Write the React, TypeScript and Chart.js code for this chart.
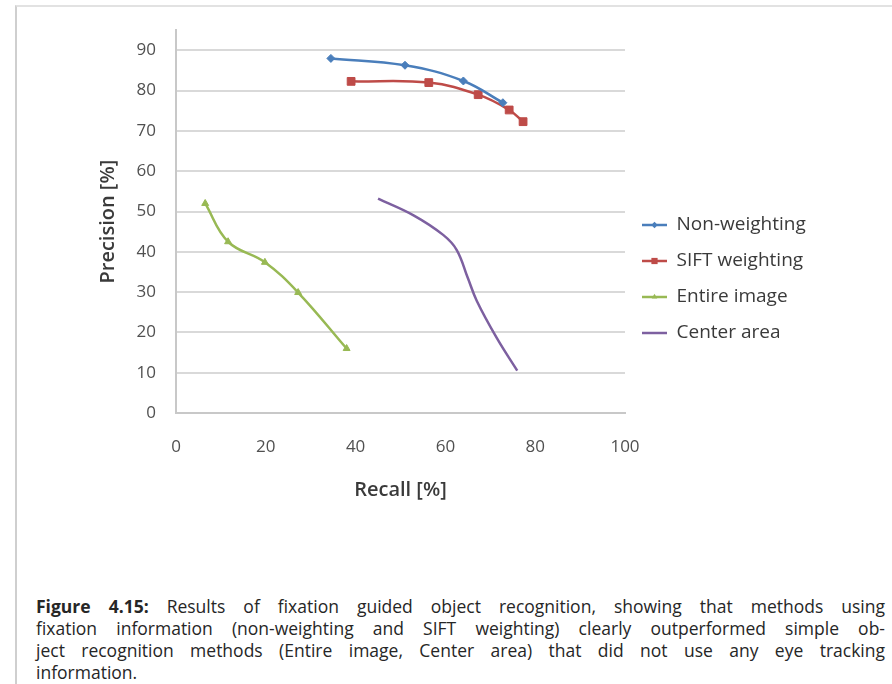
import React, { useEffect, useRef } from "react";
import { Chart, registerables } from "chart.js";

Chart.register(...registerables);

// ---- data ----
const seriesNames = ["Non-weighting", "SIFT weighting", "Entire image", "Center area"];
const seriesColors = ["#4a7ebb", "#be4b48", "#98b954", "#7d60a0"];

const nonWeightingRecall = [34.5, 51, 64, 72.8];
const nonWeightingPrecision = [88, 86.3, 82.4, 77];

const siftRecall = [39, 56.3, 67.3, 74.2, 77.3];
const siftPrecision = [82.3, 82, 79, 75.2, 72.3];

const entireRecall = [6.5, 11.6, 19.8, 27.2, 38];
const entirePrecision = [52, 42.5, 37.4, 29.9, 16];

const centerRecall = [45, 53, 59.5, 62.5, 65, 67, 71.4, 76];
const centerPrecision = [53.2, 49, 44.2, 40.5, 33.5, 27.8, 18.7, 10.5];

const xTickValues = [0, 20, 40, 60, 80, 100];
const yTickValues = [0, 10, 20, 30, 40, 50, 60, 70, 80, 90];

const xTitle = "Recall [%]";
const yTitle = "Precision [%]";

const captionLines = [
  "Results of fixation guided object recognition, showing that methods using",
  "fixation information (non-weighting and SIFT weighting) clearly outperformed simple ob-",
  "ject recognition methods (Entire image, Center area) that did not use any eye tracking",
  "information.",
];
const captionLabel = "Figure 4.15:";

const markerStyles = ["rectRot", "rect", "triangle", false];
const markerRadius = [4, 5.5, 4, 0];

function toPoints(xs: number[], ys: number[]) {
  return xs.map((x, i) => ({ x, y: ys[i] }));
}

const LEGEND_WIDTH = 267;
const LEGEND_FONT = 19;

const fixedLegendWidth = {
  id: "fixedLegendWidth",
  beforeLayout(chart: any) {
    const lg = chart.legend;
    if (lg && !lg.__patched) {
      const orig = lg.fit.bind(lg);
      lg.fit = function () {
        orig();
        this.width = LEGEND_WIDTH;
      };
      lg.__patched = true;
    }
  },
};

const legendMarkers = {
  id: "legendMarkers",
  afterDraw(chart: any) {
    const lg = chart.legend;
    if (!lg || !lg.legendHitBoxes) return;
    const ctx = chart.ctx;
    lg.legendHitBoxes.forEach((hb: any, i: number) => {
      const style = markerStyles[i];
      if (!style) return;
      const cx = hb.left + 12.5;
      const cy = hb.top + LEGEND_FONT / 2;
      const r = markerRadius[i] * 0.8;
      ctx.save();
      ctx.fillStyle = seriesColors[i];
      ctx.beginPath();
      if (style === "rectRot") {
        ctx.moveTo(cx, cy - r);
        ctx.lineTo(cx + r, cy);
        ctx.lineTo(cx, cy + r);
        ctx.lineTo(cx - r, cy);
      } else if (style === "rect") {
        const s = r * Math.SQRT1_2;
        ctx.rect(cx - s, cy - s, 2 * s, 2 * s);
      } else if (style === "triangle") {
        ctx.moveTo(cx, cy - r);
        ctx.lineTo(cx + r * 0.87, cy + r * 0.5);
        ctx.lineTo(cx - r * 0.87, cy + r * 0.5);
      }
      ctx.closePath();
      ctx.fill();
      ctx.restore();
    });
  },
};

function ChartView() {
  const ref = useRef<HTMLCanvasElement | null>(null);
  useEffect(() => {
    if (!ref.current) return;
    const datasets = [
      toPoints(nonWeightingRecall, nonWeightingPrecision),
      toPoints(siftRecall, siftPrecision),
      toPoints(entireRecall, entirePrecision),
      toPoints(centerRecall, centerPrecision),
    ].map((data, i) => ({
      label: seriesNames[i],
      data,
      showLine: true,
      borderColor: seriesColors[i],
      backgroundColor: seriesColors[i],
      borderWidth: 2.5,
      tension: 0.4,
      pointStyle: markerStyles[i] || "circle",
      pointRadius: markerRadius[i],
      pointBorderWidth: 1,
      pointHoverRadius: markerRadius[i],
    }));

    const chart = new Chart(ref.current, {
      type: "scatter",
      data: { datasets },
      plugins: [fixedLegendWidth, legendMarkers],
      options: {
        responsive: false,
        animation: false,
        devicePixelRatio: 1,
        layout: { padding: { left: 90, top: 28, right: 0, bottom: 0 } },
        plugins: {
          tooltip: { enabled: false },
          legend: {
            position: "right",
            align: "center",
            labels: {
              usePointStyle: true,
              pointStyleWidth: 25,
              padding: 17,
              color: "#3a3a3a",
              font: { family: "'Open Sans', sans-serif", size: LEGEND_FONT },
              generateLabels: (c: any) =>
                c.data.datasets.map((ds: any, i: number) => ({
                  text: ds.label,
                  pointStyle: "line",
                  strokeStyle: seriesColors[i],
                  fillStyle: seriesColors[i],
                  lineWidth: 2.5,
                  fontColor: "#3a3a3a",
                  datasetIndex: i,
                  hidden: false,
                })),
            },
          },
        },
        scales: {
          x: {
            type: "linear",
            min: 0,
            max: 100,
            afterFit: (s: any) => {
              s.height = 117;
            },
            afterBuildTicks: (s: any) => {
              s.ticks = xTickValues.map((v) => ({ value: v }));
            },
            grid: { display: false, drawTicks: false },
            border: { display: true, color: "#c8c8c8", width: 2 },
            ticks: {
              padding: 24,
              color: "#505050",
              font: { family: "'Open Sans', sans-serif", size: 17 },
            },
            title: {
              display: true,
              text: xTitle,
              color: "#3a3a3a",
              padding: { top: 0, bottom: 28 },
              font: { family: "'Open Sans', sans-serif", size: 20, weight: "600" },
            },
          },
          y: {
            type: "linear",
            min: 0,
            max: 95,
            afterFit: (s: any) => {
              s.width = 86;
            },
            afterBuildTicks: (s: any) => {
              s.ticks = yTickValues.map((v) => ({ value: v }));
            },
            grid: { color: "#d9d9d9", lineWidth: 2, drawTicks: false },
            border: { display: true, color: "#c8c8c8", width: 2 },
            ticks: {
              padding: 20,
              color: "#505050",
              font: { family: "'Open Sans', sans-serif", size: 17 },
            },
            title: {
              display: true,
              text: yTitle,
              color: "#3a3a3a",
              padding: { top: 6, bottom: 0 },
              font: { family: "'Open Sans', sans-serif", size: 20, weight: "600" },
            },
          },
        },
      },
    });
    return () => chart.destroy();
  }, []);
  return (
    <canvas
      ref={ref}
      width={892}
      height={530}
      style={{ position: "absolute", left: 0, top: 0, width: 892, height: 530 }}
    />
  );
}

export default function App() {
  const lineStyle: React.CSSProperties = {
    whiteSpace: "nowrap",
    textAlign: "justify",
    textAlignLast: "justify",
    height: 22,
    lineHeight: "22px",
  };
  return (
    <div
      style={{
        position: "absolute",
        left: 0,
        top: 0,
        width: 892,
        height: 684,
        overflow: "hidden",
        background: "#ffffff",
      }}
    >
      <div
        style={{
          position: "absolute",
          left: 15,
          top: 5,
          width: 900,
          height: 700,
          borderTop: "2px solid #e2e2e2",
          borderLeft: "2px solid #cfcfcf",
        }}
      />
      <ChartView />
      <div
        style={{
          position: "absolute",
          left: 36,
          top: 595,
          width: 849,
          fontFamily: "'Open Sans', sans-serif",
          fontSize: 17.5,
          color: "#262626",
        }}
      >
        <div style={lineStyle}>
          <b>{captionLabel}</b> {captionLines[0]}
        </div>
        <div style={lineStyle}>{captionLines[1]}</div>
        <div style={lineStyle}>{captionLines[2]}</div>
        <div style={{ ...lineStyle, textAlignLast: "left" }}>{captionLines[3]}</div>
      </div>
    </div>
  );
}
